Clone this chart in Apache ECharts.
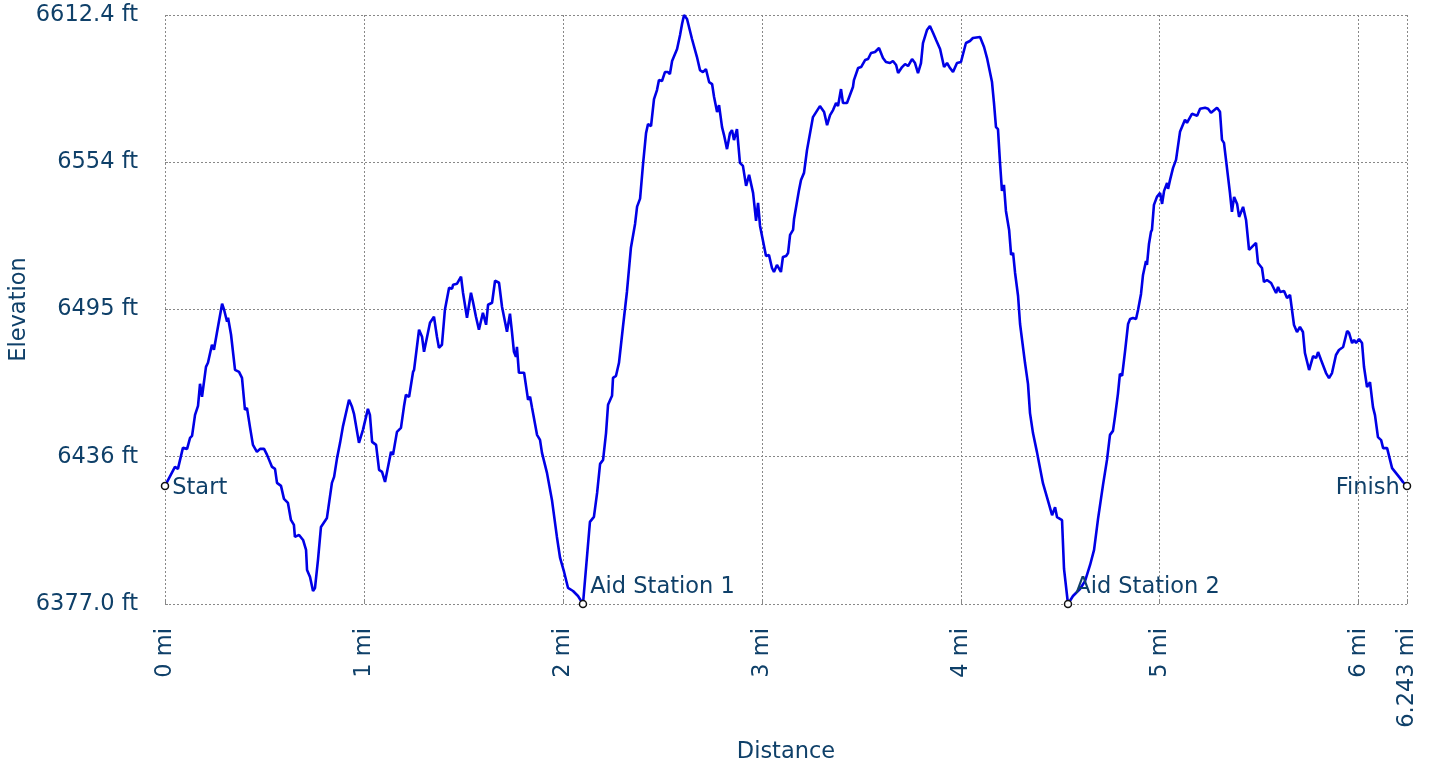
<!DOCTYPE html>
<html>
<head>
<meta charset="utf-8">
<title>Elevation profile</title>
<script src="https://cdn.jsdelivr.net/npm/echarts@6/dist/echarts.min.js"></script>
<style>
  html, body { margin: 0; padding: 0; background: #ffffff; }
  #chart { width: 1435px; height: 764px; }
</style>
</head>
<body>
<div id="chart"></div>
<script>
  // distance along the course (mi) and elevation (ft)
  var distMi = [
    0, 0.050, 0.065, 0.090, 0.111, 0.126, 0.136, 0.151, 0.166, 0.176, 0.186, 0.206, 0.216, 0.236, 0.246, 0.261, 0.271, 0.287, 0.297, 0.312,
    0.317, 0.332, 0.352, 0.372, 0.387, 0.402, 0.412, 0.427, 0.442, 0.462, 0.478, 0.498, 0.513, 0.538, 0.553, 0.563, 0.583, 0.598, 0.618, 0.633,
    0.648, 0.653, 0.674, 0.694, 0.709, 0.714, 0.729, 0.744, 0.754, 0.769, 0.784, 0.794, 0.814, 0.839, 0.850, 0.865, 0.880, 0.895, 0.925, 0.940,
    0.950, 0.960, 0.975, 0.995, 1.020, 1.030, 1.041, 1.061, 1.076, 1.091, 1.106, 1.116, 1.136, 1.146, 1.166, 1.186, 1.201, 1.211, 1.227, 1.247,
    1.252, 1.277, 1.292, 1.302, 1.332, 1.352, 1.367, 1.377, 1.392, 1.407, 1.428, 1.443, 1.448, 1.468, 1.488, 1.498, 1.518, 1.528, 1.538, 1.548,
    1.553, 1.563, 1.573, 1.578, 1.598, 1.614, 1.624, 1.644, 1.659, 1.679, 1.694, 1.704, 1.719, 1.734, 1.744, 1.754, 1.764, 1.769, 1.779, 1.805,
    1.825, 1.835, 1.845, 1.855, 1.870, 1.885, 1.895, 1.920, 1.945, 1.970, 1.986, 2.006, 2.026, 2.051, 2.076, 2.101, 2.136, 2.156, 2.172, 2.187,
    2.202, 2.217, 2.227, 2.247, 2.252, 2.267, 2.282, 2.292, 2.302, 2.322, 2.342, 2.363, 2.373, 2.388, 2.403, 2.418, 2.428, 2.443, 2.458, 2.473,
    2.483, 2.498, 2.513, 2.528, 2.538, 2.549, 2.559, 2.574, 2.589, 2.599, 2.609, 2.624, 2.649, 2.674, 2.689, 2.704, 2.719, 2.735, 2.750, 2.760,
    2.775, 2.785, 2.800, 2.810, 2.825, 2.840, 2.850, 2.860, 2.875, 2.890, 2.905, 2.921, 2.936, 2.956, 2.971, 2.981, 2.991, 3.001, 3.021, 3.036,
    3.051, 3.061, 3.076, 3.086, 3.096, 3.106, 3.122, 3.132, 3.142, 3.157, 3.162, 3.172, 3.187, 3.197, 3.212, 3.227, 3.237, 3.257, 3.292, 3.313,
    3.328, 3.343, 3.358, 3.373, 3.383, 3.398, 3.408, 3.428, 3.443, 3.458, 3.463, 3.484, 3.499, 3.519, 3.534, 3.549, 3.569, 3.579, 3.589, 3.609,
    3.624, 3.634, 3.644, 3.659, 3.675, 3.685, 3.705, 3.720, 3.735, 3.755, 3.770, 3.785, 3.800, 3.810, 3.830, 3.845, 3.861, 3.876, 3.896, 3.916,
    3.931, 3.946, 3.961, 3.981, 4.001, 4.026, 4.046, 4.061, 4.097, 4.117, 4.132, 4.157, 4.167, 4.177, 4.187, 4.197, 4.207, 4.217, 4.227, 4.243,
    4.253, 4.263, 4.273, 4.288, 4.298, 4.308, 4.323, 4.338, 4.348, 4.363, 4.383, 4.413, 4.439, 4.459, 4.474, 4.484, 4.509, 4.519, 4.539, 4.564,
    4.599, 4.625, 4.650, 4.670, 4.690, 4.715, 4.735, 4.750, 4.765, 4.775, 4.790, 4.800, 4.811, 4.826, 4.841, 4.851, 4.866, 4.881, 4.891, 4.906,
    4.916, 4.931, 4.936, 4.946, 4.956, 4.961, 4.971, 4.986, 5.002, 5.012, 5.022, 5.037, 5.042, 5.052, 5.067, 5.082, 5.102, 5.127, 5.137, 5.162,
    5.188, 5.203, 5.228, 5.243, 5.258, 5.288, 5.303, 5.313, 5.323, 5.338, 5.353, 5.363, 5.374, 5.389, 5.399, 5.419, 5.434, 5.449, 5.464, 5.484,
    5.494, 5.514, 5.524, 5.539, 5.560, 5.570, 5.585, 5.595, 5.605, 5.625, 5.640, 5.655, 5.665, 5.675, 5.690, 5.705, 5.720, 5.730, 5.751, 5.771,
    5.786, 5.796, 5.811, 5.836, 5.851, 5.866, 5.886, 5.901, 5.922, 5.942, 5.952, 5.967, 5.977, 5.987, 6.002, 6.017, 6.027, 6.042, 6.057, 6.072,
    6.082, 6.097, 6.113, 6.123, 6.143, 6.168, 6.178, 6.208, 6.223, 6.243
  ];
  var elevFt = [
    6424.2, 6431.8, 6431.0, 6439.4, 6439.0, 6443.4, 6444.2, 6452.6, 6456.2, 6465.0, 6459.8, 6471.8, 6473.4, 6480.6, 6478.6, 6485.4, 6485.8, 6497.0, 6494.6, 6489.8,
    6491.4, 6484.6, 6470.6, 6469.8, 6467.4, 6454.6, 6455.4, 6447.8, 6440.6, 6437.8, 6439.0, 6439.0, 6436.6, 6431.8, 6431.0, 6425.4, 6424.2, 6419.0, 6417.4, 6410.6,
    6408.6, 6403.8, 6404.6, 6402.6, 6398.6, 6390.6, 6387.8, 6382.2, 6383.4, 6394.6, 6407.8, 6408.2, 6411.4, 6425.4, 6427.8, 6435.4, 6441.4, 6448.2, 6458.6, 6455.8,
    6453.0, 6453.0, 6441.4, 6446.6, 6455.0, 6452.6, 6441.8, 6440.6, 6430.6, 6429.8, 6425.8, 6426.2, 6437.8, 6436.6, 6445.8, 6447.4, 6455.8, 6460.6, 6459.8, 6469.8,
    6470.6, 6486.6, 6483.8, 6477.8, 6489.4, 6491.8, 6483.8, 6479.4, 6480.6, 6494.6, 6503.4, 6503.0, 6504.6, 6505.0, 6507.8, 6501.4, 6491.4, 6491.0, 6501.4, 6497.8,
    6497.4, 6491.8, 6491.8, 6486.6, 6493.4, 6488.6, 6496.6, 6497.4, 6506.2, 6505.4, 6495.8, 6495.4, 6485.8, 6493.0, 6485.8, 6477.8, 6475.8, 6479.8, 6469.4, 6469.4,
    6458.6, 6459.8, 6455.4, 6455.8, 6444.6, 6442.6, 6437.4, 6429.4, 6418.6, 6403.8, 6395.4, 6389.8, 6383.4, 6382.2, 6380.2, 6377.0, 6409.8, 6411.8, 6421.4, 6433.0,
    6434.6, 6445.4, 6456.6, 6460.2, 6467.4, 6468.2, 6473.4, 6480.6, 6487.8, 6501.8, 6519.4, 6529.0, 6535.8, 6539.0, 6552.9, 6565.2, 6568.8, 6568.0, 6578.8, 6582.4,
    6586.4, 6586.0, 6589.6, 6589.6, 6588.8, 6594.0, 6594.4, 6598.8, 6604.4, 6608.8, 6612.4, 6610.8, 6602.8, 6595.6, 6590.4, 6589.6, 6590.8, 6585.6, 6584.8, 6579.6,
    6573.6, 6576.4, 6567.6, 6564.4, 6558.8, 6565.2, 6566.4, 6562.4, 6566.8, 6553.3, 6552.1, 6544.1, 6548.5, 6541.3, 6530.1, 6537.3, 6528.1, 6527.7, 6516.1, 6516.5,
    6511.3, 6509.7, 6512.5, 6512.5, 6509.7, 6515.7, 6516.1, 6517.3, 6524.5, 6526.5, 6530.9, 6531.3, 6542.5, 6546.5, 6549.3, 6558.4, 6558.8, 6571.6, 6576.0, 6573.6,
    6568.4, 6572.4, 6574.4, 6577.2, 6576.0, 6582.8, 6577.2, 6577.2, 6580.4, 6583.6, 6586.4, 6591.2, 6591.6, 6594.4, 6594.8, 6597.2, 6597.6, 6598.4, 6599.2, 6595.2,
    6593.6, 6594.0, 6593.2, 6594.0, 6592.4, 6589.2, 6591.6, 6592.8, 6592.0, 6594.8, 6593.2, 6589.2, 6593.2, 6601.2, 6606.4, 6608.0, 6605.2, 6602.4, 6598.8, 6591.6,
    6593.2, 6591.2, 6589.6, 6593.2, 6593.6, 6601.2, 6602.0, 6603.2, 6603.6, 6599.6, 6595.2, 6585.6, 6577.2, 6567.6, 6566.8, 6553.7, 6542.1, 6544.5, 6534.1, 6526.5,
    6516.5, 6517.3, 6509.3, 6500.1, 6488.9, 6488.9, 6473.3, 6464.9, 6453.3, 6445.3, 6437.7, 6425.3, 6418.1, 6412.5, 6415.7, 6411.7, 6410.5, 6391.0, 6377.0, 6380.2,
    6383.0, 6386.2, 6392.6, 6398.6, 6411.0, 6424.6, 6434.6, 6444.6, 6446.2, 6451.8, 6461.0, 6469.0, 6468.2, 6478.2, 6488.9, 6490.9, 6491.3, 6490.9, 6494.5, 6500.9,
    6508.5, 6514.1, 6512.5, 6520.9, 6525.7, 6526.5, 6536.5, 6539.7, 6541.3, 6536.9, 6542.1, 6545.3, 6542.9, 6546.5, 6551.3, 6554.5, 6565.7, 6570.5, 6569.3, 6572.9,
    6572.1, 6574.9, 6575.3, 6574.9, 6573.3, 6575.3, 6573.7, 6562.5, 6561.3, 6551.3, 6541.3, 6533.7, 6539.7, 6536.9, 6531.7, 6535.7, 6530.5, 6518.5, 6519.7, 6521.3,
    6513.3, 6511.3, 6505.7, 6506.5, 6505.3, 6505.7, 6501.3, 6503.7, 6501.7, 6502.1, 6499.3, 6500.5, 6494.5, 6488.5, 6485.7, 6487.7, 6485.7, 6477.3, 6470.5, 6476.1,
    6475.3, 6477.7, 6474.5, 6469.3, 6467.3, 6469.3, 6476.5, 6478.5, 6479.7, 6486.1, 6485.3, 6481.3, 6482.5, 6481.3, 6482.9, 6481.3, 6471.7, 6463.7, 6465.7, 6455.7,
    6452.5, 6443.7, 6442.5, 6439.3, 6439.3, 6431.3, 6431.7, 6427.3, 6425.7, 6424.2
  ];

  // named points on the course
  var stopNames = ['Start', 'Aid Station 1', 'Aid Station 2', 'Finish'];
  var stopDist = [0, 2.101, 4.539, 6.243];
  var stopElev = [6424.2, 6377.0, 6377.0, 6424.2];

  // axis ticks
  var xTicks = [0, 1, 2, 3, 4, 5, 6, 6.243];
  var yTicks = [6377.0, 6435.85, 6494.7, 6553.55, 6612.4];
  var yTickLabels = ['6377.0 ft', '6436 ft', '6495 ft', '6554 ft', '6612.4 ft'];

  var textColor = '#0f4069';
  var fontName = 'DejaVu Sans';
  var fontSize = 22.5;

  var lineData = [];
  for (var i = 0; i < distMi.length; i++) {
    lineData.push([distMi[i], elevFt[i]]);
  }

  var stopData = [];
  for (var j = 0; j < stopNames.length; j++) {
    var lbl = {position: 'right', distance: 3, offset: [0, 2]};
    if (stopNames[j] == 'Finish') {
      lbl = {position: 'left', distance: 3, offset: [0, 2]};
    } else if (stopNames[j] != 'Start') {
      lbl = {position: 'right', distance: 3, offset: [0, -17]};
    }
    stopData.push({name: stopNames[j], value: [stopDist[j], stopElev[j]], label: lbl});
  }

  var gridLine = {show: true, lineStyle: {color: '#888888', type: [2, 2], width: 1}};

  var myChart = echarts.init(document.getElementById('chart'));

  myChart.setOption({
    animation: false,
    textStyle: {fontFamily: fontName},
    grid: {left: 165, right: 28, top: 15, bottom: 160, containLabel: false, outerBoundsMode: 'none'},
    xAxis: {
      type: 'value',
      min: 0,
      max: 6.243,
      name: 'Distance',
      nameLocation: 'middle',
      nameGap: 137,
      nameMoveOverlap: false,
      nameTextStyle: {color: textColor, fontSize: fontSize, fontFamily: fontName},
      axisLine: {show: false},
      axisTick: {show: true, inside: true, length: 3, customValues: xTicks, lineStyle: {color: '#888888'}},
      axisLabel: {
        customValues: xTicks,
        rotate: 90,
        margin: 24,
        color: textColor,
        fontSize: fontSize,
        fontFamily: fontName,
        formatter: function (v) { return v + ' mi'; }
      },
      splitLine: gridLine
    },
    yAxis: {
      type: 'value',
      min: 6377.0,
      max: 6612.4,
      name: 'Elevation',
      nameLocation: 'middle',
      nameGap: 134,
      nameMoveOverlap: false,
      nameTextStyle: {color: textColor, fontSize: fontSize, fontFamily: fontName},
      axisLine: {show: false},
      axisTick: {show: true, inside: true, length: 3, customValues: yTicks, lineStyle: {color: '#888888'}},
      axisLabel: {
        customValues: yTicks,
        margin: 27,
        color: textColor,
        fontSize: fontSize,
        fontFamily: fontName,
        formatter: function (v) {
          var k = yTicks.indexOf(v);
          return k >= 0 ? yTickLabels[k] : '';
        }
      },
      splitLine: gridLine
    },
    series: [
      {
        name: 'Elevation',
        type: 'line',
        data: lineData,
        showSymbol: false,
        smooth: false,
        lineStyle: {color: '#0000e6', width: 2.6},
        z: 2
      },
      {
        name: 'Stops',
        type: 'scatter',
        data: stopData,
        symbol: 'circle',
        symbolSize: 7,
        itemStyle: {color: '#ffffff', borderColor: '#111111', borderWidth: 1.5, opacity: 1},
        label: {
          show: true,
          formatter: '{b}',
          color: textColor,
          opacity: 1,
          fontSize: fontSize,
          fontFamily: fontName
        },
        z: 3
      }
    ]
  });
</script>
</body>
</html>
